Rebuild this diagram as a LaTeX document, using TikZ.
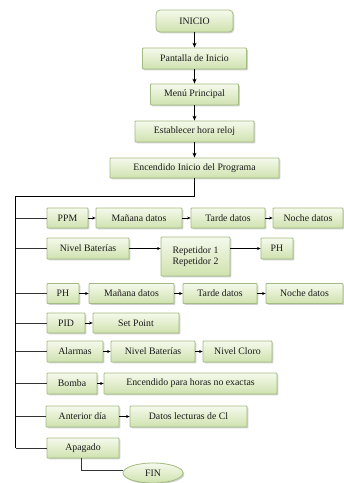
\documentclass[tikz,border=0pt]{standalone}
\usepackage{fontspec}
\setmainfont{Liberation Serif}
\usetikzlibrary{arrows.meta,shadows,shapes.geometric}

\definecolor{boxtop}{HTML}{F5F9EC}
\definecolor{boxbottom}{HTML}{CFE2AE}
\definecolor{boxline}{HTML}{A3BB82}

\tikzset{
  box/.style={draw=boxline, line width=0.8pt, top color=boxtop, bottom color=boxbottom,
    rounded corners=0.8pt, inner sep=0pt, text=black!90,
    font=\fontsize{9.8}{11.3}\selectfont,
    drop shadow={shadow xshift=1.3pt, shadow yshift=-1.3pt, fill=black!40, opacity=0.45}},
  startbox/.style={box, rounded corners=4pt},
  endbox/.style={box, ellipse},
  flow/.style={line width=0.8pt, -{Stealth[length=5pt,width=4pt]}},
  step arrow/.style={line width=0.7pt, -{Stealth[length=3.5pt,width=3pt]}},
  branch/.style={line width=0.7pt, black!80},
  trunk/.style={line width=0.9pt, black},
}

\newcommand{\bx}[6][box]{%
  \node[#1, minimum width=#4pt, minimum height=#5pt] (#2) at (#3) {#6};}

\begin{document}
\begin{tikzpicture}[x=1pt, y=-1pt]
\useasboundingbox (0,0) rectangle (344,483);

% main sequence
\bx[startbox]{ini}{194.5,21}{77}{22}{INICIO}
\bx{pant}{194.5,58.5}{104}{21}{Pantalla de Inicio}
\bx{menu}{194.5,94.5}{88}{21}{Menú Principal}
\bx{hora}{194.5,131.5}{119}{21}{Establecer hora reloj}
\bx{enc}{194.5,168}{169}{20}{Encendido Inicio del Programa}

\draw[flow] (ini) -- (pant);
\draw[flow] (pant) -- (menu);
\draw[flow] (menu) -- (hora);
\draw[flow] (hora) -- (enc);

% menu options
\bx{ppm}{67.5,218}{41}{20}{PPM}
\bx{man1}{139,218}{86}{20}{Mañana datos}
\bx{tar1}{228,218}{74}{20}{Tarde datos}
\bx{noc1}{308,218}{70}{20}{Noche datos}

\bx{niv}{88,248.5}{82}{21}{Nivel Baterías}
\bx{rep}{195.5,256.5}{69}{39}{\begin{tabular}{@{}l@{}}Repetidor 1\\Repetidor 2\end{tabular}}
\bx{ph1}{277,248.5}{32}{21}{PH}

\bx{ph2}{63,293.5}{32}{20}{PH}
\bx{man2}{131.5,293.5}{85}{20}{Mañana datos}
\bx{tar2}{220,293.5}{74}{20}{Tarde datos}
\bx{noc2}{304.5,293.5}{77}{20}{Noche datos}

\bx{pid}{66,323}{38}{20}{PID}
\bx{set}{136,323}{86}{20}{Set Point}

\bx{ala}{75,351.5}{56}{21}{Alarmas}
\bx{nb2}{153,351.5}{84}{21}{Nivel Baterías}
\bx{clo}{237.5,351.5}{69}{21}{Nivel Cloro}

\bx{bom}{72,383.5}{50}{21}{Bomba}
\bx{hrs}{190.5,383.5}{173}{21}{Encendido para horas no exactas}

\bx{ant}{82.5,416.5}{73}{21}{Anterior día}
\bx{dat}{188.5,416.5}{117}{21}{Datos lecturas de Cl}

\bx{apa}{83,448}{72}{20}{Apagado}
\bx[endbox]{fin}{153,473}{60}{20}{FIN}

% trunk and branches
\coordinate (tk) at (15.5,196);
\draw[trunk] (enc.south) |- (tk) -- (tk |- apa.west);
\foreach \n in {ppm,niv,ph2,pid,ala,bom,ant,apa}
  \draw[branch] (tk |- \n.west) -- (\n.west);

% steps within each option
\draw[step arrow] (ppm) -- (man1);
\draw[step arrow] (man1) -- (tar1);
\draw[step arrow] (tar1) -- (noc1);
\draw[step arrow] (niv.east) -- (niv.east -| rep.west);
\draw[step arrow] (rep.east |- ph1.west) -- (ph1.west);
\draw[step arrow] (ph2) -- (man2);
\draw[step arrow] (man2) -- (tar2);
\draw[step arrow] (tar2) -- (noc2);
\draw[step arrow] (pid) -- (set);
\draw[step arrow] (ala) -- (nb2);
\draw[step arrow] (nb2) -- (clo);
\draw[step arrow] (bom) -- (hrs);
\draw[step arrow] (ant) -- (dat);

\draw[branch] ([xshift=-2pt]apa.south) |- ([yshift=2.5pt]fin.west);
\end{tikzpicture}
\end{document}
